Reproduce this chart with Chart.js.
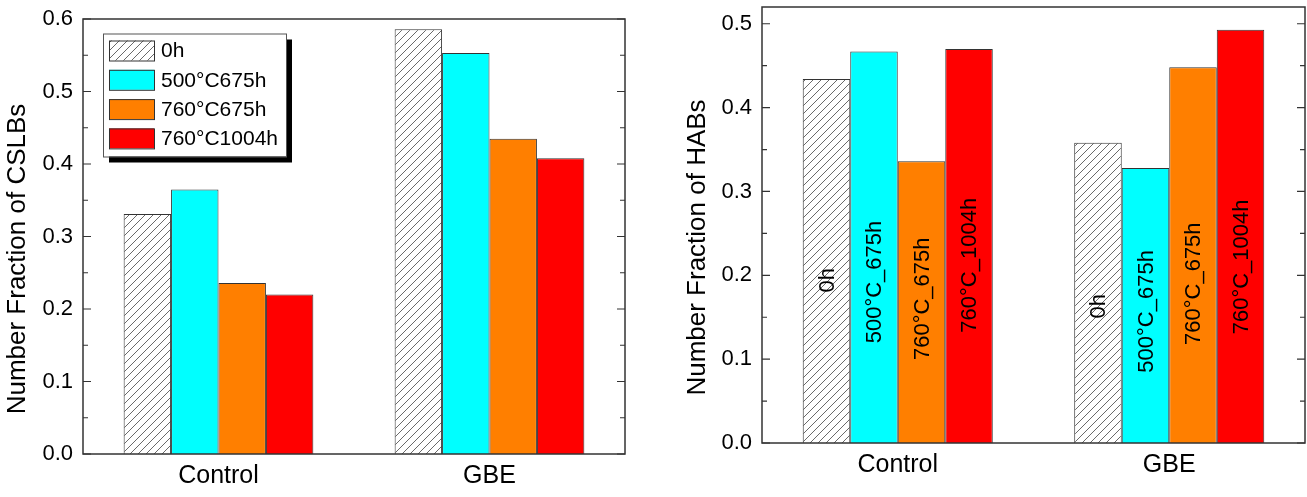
<!DOCTYPE html>
<html>
<head>
<meta charset="utf-8">
<script src="https://cdn.jsdelivr.net/npm/chart.js@4.4.0/dist/chart.umd.min.js"></script>
<style>
body { margin: 0; background: #fff; width: 1307px; height: 497px; position: relative; overflow: hidden; }
#leftWrap { position: absolute; left: 0; top: 0; }
#rightWrap { position: absolute; left: 653px; top: 0; }
</style>
</head>
<body>
<div id="leftWrap"><canvas id="cslbChart" width="640" height="497"></canvas></div>
<div id="rightWrap"><canvas id="habChart" width="654" height="497"></canvas></div>
<script>
const groups = ['Control', 'GBE'];
const seriesNames = ['0h', '500°C675h', '760°C675h', '760°C1004h'];
const barTexts = ['0h', '500°C_675h', '760°C_675h', '760°C_1004h'];

// fraction of CSLBs
const cslb0h = [0.331, 0.586];
const cslb500c675h = [0.365, 0.553];
const cslb760c675h = [0.236, 0.435];
const cslb760c1004h = [0.220, 0.408];

// fraction of HABs
const hab0h = [0.434, 0.358];
const hab500c675h = [0.467, 0.328];
const hab760c675h = [0.336, 0.448];
const hab760c1004h = [0.470, 0.493];

const FONT = "'Liberation Sans', Arial, sans-serif";
Chart.defaults.font.family = FONT;
Chart.defaults.color = '#000';

// hatch for the 0h bars
const tile = document.createElement('canvas');
tile.width = 8; tile.height = 8;
const tctx = tile.getContext('2d');
tctx.fillStyle = '#fff';
tctx.fillRect(0, 0, 8, 8);
tctx.strokeStyle = '#6a6a6a';
tctx.lineWidth = 1;
tctx.beginPath();
tctx.moveTo(0, 8); tctx.lineTo(8, 0);
tctx.moveTo(-1, 1); tctx.lineTo(1, -1);
tctx.moveTo(7, 9); tctx.lineTo(9, 7);
tctx.stroke();
const hatch = tctx.createPattern(tile, 'repeat');

const fills = [hatch, '#00FFFF', '#FF7F00', '#FF0000'];

function makeDatasets(values) {
    return values.map((v, i) => ({
        label: seriesNames[i],
        data: v,
        backgroundColor: fills[i],
        borderColor: '#333',
        borderWidth: 1,
        barPercentage: 1.0,
        categoryPercentage: 0.7
    }));
}

// box round the plot, ticks pointing in on both sides
const framePlugin = {
    id: 'frame',
    afterDraw(chart) {
        const { ctx, chartArea: a, scales: { y } } = chart;
        ctx.save();
        ctx.strokeStyle = '#333';
        ctx.lineWidth = 1.5;
        ctx.strokeRect(a.left, a.top, a.right - a.left, a.bottom - a.top);
        ctx.lineWidth = 1.2;
        const vals = y.ticks.map(t => t.value);
        ctx.beginPath();
        vals.forEach((v, i) => {
            const py = y.getPixelForValue(v);
            ctx.moveTo(a.left, py); ctx.lineTo(a.left + 8, py);
            ctx.moveTo(a.right, py); ctx.lineTo(a.right - 8, py);
            if (i < vals.length - 1) {
                const my = y.getPixelForValue((v + vals[i + 1]) / 2);
                ctx.moveTo(a.left, my); ctx.lineTo(a.left + 5, my);
                ctx.moveTo(a.right, my); ctx.lineTo(a.right - 5, my);
            }
        });
        ctx.stroke();
        ctx.restore();
    }
};

// y title, drawn by hand because it sits a bit below the middle
const yTitle = {
    id: 'yTitle',
    afterDraw(chart, args, opts) {
        const { ctx, chartArea: a } = chart;
        ctx.save();
        ctx.font = '26px ' + FONT;
        ctx.fillStyle = '#000';
        ctx.textAlign = 'center';
        ctx.textBaseline = 'alphabetic';
        ctx.translate(opts.x, (a.top + a.bottom) / 2 + opts.shift);
        ctx.rotate(-Math.PI / 2);
        ctx.fillText(opts.text, 0, 0);
        ctx.restore();
    }
};

// framed legend with a drop shadow, inside the plot
const boxLegend = {
    id: 'boxLegend',
    afterDraw(chart) {
        const { ctx, chartArea: a } = chart;
        const x0 = a.left + 20, y0 = a.top + 14.5, w = 183, h = 123;
        ctx.save();
        ctx.fillStyle = '#000';
        ctx.fillRect(x0 + 6, y0 + 6, w, h);
        ctx.fillStyle = '#fff';
        ctx.fillRect(x0, y0, w, h);
        ctx.strokeStyle = '#555';
        ctx.lineWidth = 1;
        ctx.strokeRect(x0 + 0.5, y0 + 0.5, w, h);
        ctx.font = '21px ' + FONT;
        ctx.textBaseline = 'middle';
        chart.data.datasets.forEach((ds, i) => {
            const ry = y0 + 17 + i * 29.3;
            ctx.fillStyle = ds.backgroundColor;
            ctx.fillRect(x0 + 6, ry - 10, 45, 20);
            ctx.strokeStyle = '#333';
            ctx.strokeRect(x0 + 6.5, ry - 9.5, 45, 20);
            ctx.fillStyle = '#000';
            ctx.fillText(ds.label, x0 + 58, ry + 1);
        });
        ctx.restore();
    }
};

// vertical text written inside the HAB bars
const barText = {
    id: 'barText',
    afterDatasetsDraw(chart, args, opts) {
        const { ctx, scales: { y } } = chart;
        ctx.save();
        ctx.font = '22px ' + FONT;
        ctx.fillStyle = '#000';
        ctx.textAlign = 'center';
        ctx.textBaseline = 'middle';
        chart.data.datasets.forEach((ds, i) => {
            chart.getDatasetMeta(i).data.forEach((bar, j) => {
                ctx.save();
                ctx.translate(bar.x, y.getPixelForValue(opts.centers[i][j]));
                ctx.rotate(-Math.PI / 2);
                ctx.fillText(barTexts[i], 0, 1);
                ctx.restore();
            });
        });
        ctx.restore();
    }
};

function makeOptions(yMax, yWidth, xHeight, pad, title) {
    return {
        responsive: false,
        animation: false,
        layout: { padding: pad },
        plugins: { legend: { display: false }, tooltip: { enabled: false }, yTitle: title },
        scales: {
            x: {
                grid: { display: false, drawTicks: false },
                border: { display: false },
                ticks: { font: { size: 25 }, padding: 7 },
                afterFit(s) { s.height = xHeight; s.paddingLeft = 0; s.paddingRight = 0; }
            },
            y: {
                min: 0,
                max: yMax,
                grid: { display: false, drawTicks: false },
                border: { display: false },
                ticks: {
                    stepSize: 0.1,
                    includeBounds: false,
                    font: { size: 22 },
                    padding: 10,
                    callback: v => v.toFixed(1)
                },
                afterFit(s) { s.width = yWidth; s.paddingTop = 0; s.paddingBottom = 0; }
            }
        }
    };
}

const cslbChart = new Chart(document.getElementById('cslbChart'), {
    type: 'bar',
    data: {
        labels: groups,
        datasets: makeDatasets([cslb0h, cslb500c675h, cslb760c675h, cslb760c1004h])
    },
    options: makeOptions(0.6, 83, 43, { top: 19, right: 15, bottom: 0, left: 0 },
        { text: 'Number Fraction of CSLBs', x: 25, shift: 22.5 }),
    plugins: [framePlugin, boxLegend, yTitle]
});

const habOptions = makeOptions(0.52, 109, 54, { top: 7, right: 2, bottom: 0, left: 0 },
    { text: 'Number Fraction of HABs', x: 52, shift: 22.5 });
habOptions.plugins.barText = {
    centers: [
        [0.194, 0.163],
        [0.192, 0.157],
        [0.172, 0.190],
        [0.212, 0.210]
    ]
};

const habChart = new Chart(document.getElementById('habChart'), {
    type: 'bar',
    data: {
        labels: groups,
        datasets: makeDatasets([hab0h, hab500c675h, hab760c675h, hab760c1004h])
    },
    options: habOptions,
    plugins: [framePlugin, barText, yTitle]
});
</script>
</body>
</html>
